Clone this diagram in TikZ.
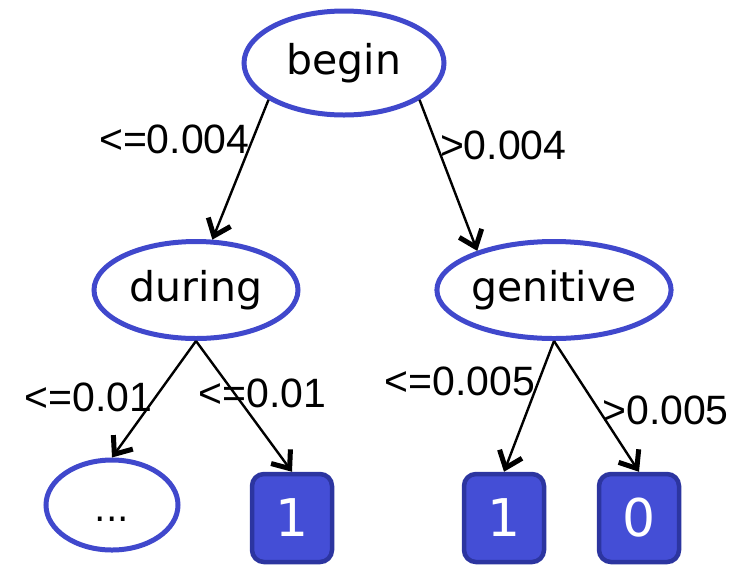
\documentclass[tikz,border=0pt]{standalone}
\usepackage{fontspec}
\setmainfont{DejaVu Sans}
\newfontfamily\edgefont{Liberation Sans}
\usetikzlibrary{shapes.geometric,arrows.meta}
\definecolor{ovalcolor}{RGB}{64,72,204}
\definecolor{leafcolor}{RGB}{68,78,214}
\definecolor{leafborder}{RGB}{44,53,160}
\tikzset{
splitnode/.style={
  ellipse,
  draw=ovalcolor,
  line width=5pt,
  fill=white,
  inner sep=0pt,
  font=\fontsize{41}{49}\selectfont
},
leafnode/.style={
  draw=leafborder,
  fill=leafcolor,
  rounded corners=12pt,
  line width=4.5pt,
  minimum width=80pt,
  minimum height=88pt,
  inner sep=0pt,
  text=white,
  font=\fontsize{52}{60}\selectfont
},
branch/.style={
  -{Straight Barb[length=15pt,width=24pt,line width=5pt 0]},
  line width=2.4pt
},
threshold/.style={
  inner sep=2pt,
  font=\edgefont\fontsize{41}{49}\selectfont
}
}

\begin{document}
\begin{tikzpicture}[x=1pt,y=-1pt]
  \useasboundingbox (0,0) rectangle (746,566);
  % split nodes
  \node[splitnode, minimum width=200pt, minimum height=104pt] (begin) at (344,63) {begin};
  \node[splitnode, minimum width=204pt, minimum height=97pt] (during) at (196,290) {during};
  \node[splitnode, minimum width=206pt, minimum height=97pt] (genitive) at (554,290) {genitive};
  \node[splitnode, minimum width=132pt, minimum height=90pt, font=\fontsize{36}{40}\selectfont] (more) at (112,505) {\smash{\raisebox{-16pt}{...}}};
  % leaves
  \node[leafnode] (leafa) at (292,518) {1};
  \node[leafnode] (leafb) at (504,518) {1};
  \node[leafnode] (leafc) at (639,518) {0};
  % branches
  \draw[branch] (begin.206) -- node[threshold, pos=0.28, anchor=east] {<=0.004} (during.72);
  \draw[branch] (begin.334) -- node[threshold, pos=0.3, anchor=west] {>0.004} (genitive.153);
  \draw[branch] (during.south) -- node[threshold, pos=0.48, anchor=east] {<=0.01} (more.north);
  \draw[branch] (during.south) -- node[threshold, pos=0.4, xshift=28pt] {<=0.01} (leafa.north);
  \draw[branch] (genitive.south) -- node[threshold, pos=0.31, anchor=east] {<=0.005} (leafb.north);
  \draw[branch] (genitive.south) -- node[threshold, pos=0.53, anchor=west] {>0.005} (leafc.north);
\end{tikzpicture}
\end{document}
